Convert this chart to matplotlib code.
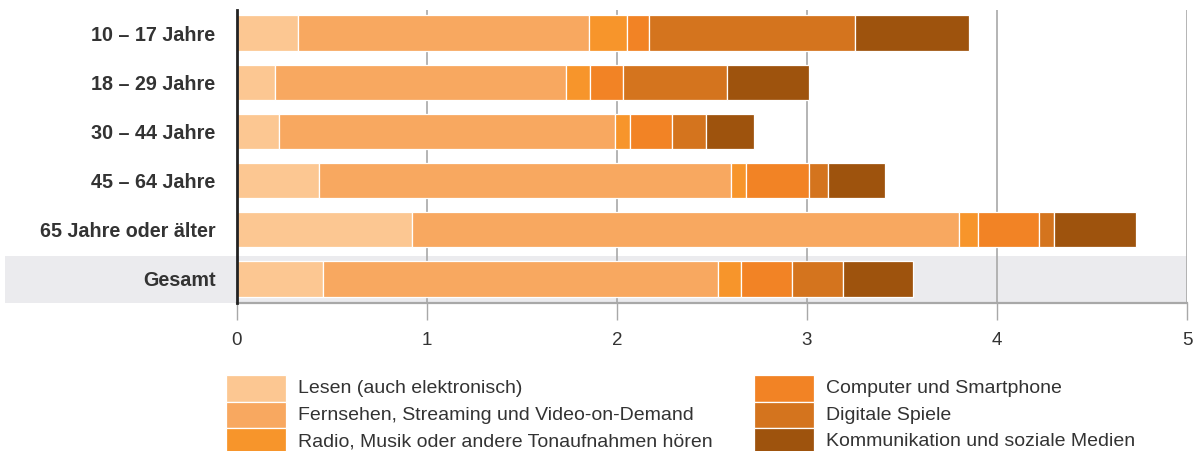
import numpy as np
import matplotlib.pyplot as plt
from matplotlib.patches import Rectangle

plt.rcParams['font.family'] = ['Liberation Sans', 'DejaVu Sans']

# age groups, top to bottom
groups = ["10 – 17 Jahre", "18 – 29 Jahre", "30 – 44 Jahre",
          "45 – 64 Jahre", "65 Jahre oder älter", "Gesamt"]

categories = ["Lesen (auch elektronisch)",
              "Fernsehen, Streaming und Video-on-Demand",
              "Radio, Musik oder andere Tonaufnahmen hören",
              "Computer und Smartphone",
              "Digitale Spiele",
              "Kommunikation und soziale Medien"]

lesen     = [0.32, 0.20, 0.22, 0.43, 0.92, 0.45]
fernsehen = [1.53, 1.53, 1.77, 2.17, 2.88, 2.08]
radio     = [0.20, 0.13, 0.08, 0.08, 0.10, 0.12]
computer  = [0.12, 0.17, 0.22, 0.33, 0.32, 0.27]
spiele    = [1.08, 0.55, 0.18, 0.10, 0.08, 0.27]
komm      = [0.60, 0.43, 0.25, 0.30, 0.43, 0.37]

colors = ["#fcc792", "#f8a860", "#f7952b", "#f28325", "#d4741e", "#9e530d"]

series = [lesen, fernsehen, radio, computer, spiele, komm]

fig = plt.figure(figsize=(11.98, 4.51), dpi=100)
W, H = 1198, 451
ax = fig.add_axes([237 / W, 1 - 303 / H, 950 / W, 293 / H])
ax.set_facecolor("none")

# grey band behind "Gesamt"
fig.add_artist(Rectangle((5 / W, 1 - 303 / H), 1182 / W, 47 / H,
                         transform=fig.transFigure, facecolor="#ebebee",
                         edgecolor="none", zorder=-5))

y = np.arange(len(groups))[::-1]
left = np.zeros(len(groups))
for vals, c in zip(series, colors):
    ax.barh(y, vals, left=left, height=0.72, color=c, edgecolor="white",
            linewidth=0.9, zorder=3)
    left += np.array(vals)

ax.set_xlim(0, 5)
ax.set_ylim(-0.49, 5.47)
ax.set_xticks(range(6))
ax.set_yticks(y)
ax.set_yticklabels(groups, fontsize=14.2, fontweight="bold", color="#333333")
ax.tick_params(axis="y", length=0, pad=15.5)
ax.tick_params(axis="x", length=12, width=1, color="#a8a8a8",
               labelsize=13.5, labelcolor="#333333", pad=9)
for xv in range(1, 6):
    ax.axvline(xv, color="#a8a8a8", linewidth=1.2, zorder=1)

for s in ["top", "right"]:
    ax.spines[s].set_visible(False)
ax.spines["bottom"].set_color("#a8a8a8")
ax.spines["bottom"].set_linewidth(1.6)
ax.spines["left"].set_color("#222222")
ax.spines["left"].set_linewidth(2)
ax.spines["left"].set_zorder(4)

# legend: two columns of stacked swatches
col_x = [226, 754]
for i, (lab, c) in enumerate(zip(categories, colors)):
    col, row = divmod(i, 3)
    top = 375 + row * 26.6
    fig.add_artist(Rectangle((col_x[col] / W, 1 - (top + 26.6) / H),
                             60 / W, 26.6 / H, transform=fig.transFigure,
                             facecolor=c, edgecolor="white", linewidth=0.9))
    fig.text((col_x[col] + 72) / W, 1 - (top + 13.5) / H, lab,
             fontsize=14, color="#333333", va="center", ha="left")

fig.savefig("out.png", dpi=100)
